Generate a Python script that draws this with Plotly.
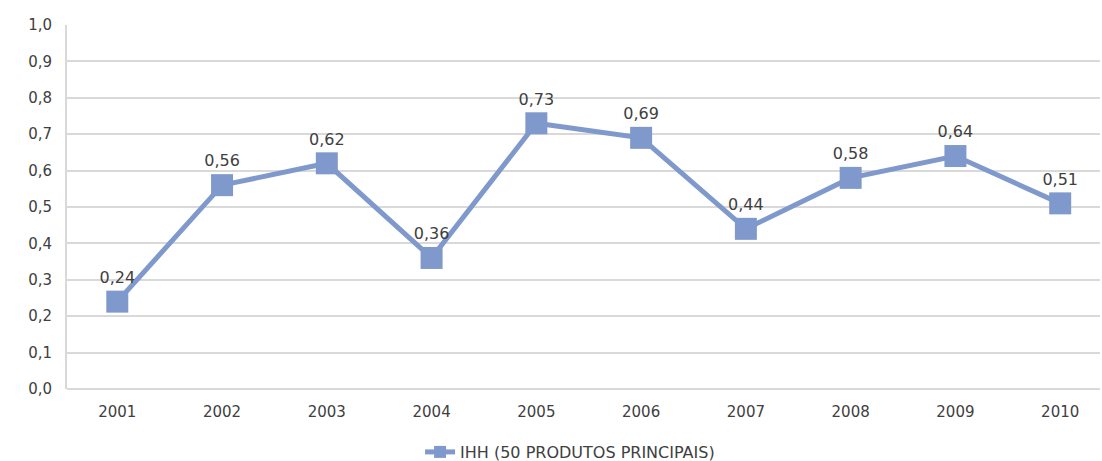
import plotly.graph_objects as go

years = ["2001", "2002", "2003", "2004", "2005", "2006", "2007", "2008", "2009", "2010"]
ihh = [0.24, 0.56, 0.62, 0.36, 0.73, 0.69, 0.44, 0.58, 0.64, 0.51]
labels = ["0,24", "0,56", "0,62", "0,36", "0,73", "0,69", "0,44", "0,58", "0,64", "0,51"]
series_name = "IHH (50 PRODUTOS PRINCIPAIS)"
y_ticks = [0.0, 0.1, 0.2, 0.3, 0.4, 0.5, 0.6, 0.7, 0.8, 0.9, 1.0]

color = "#8099cc"
fam = "DejaVu Sans"

fig = go.Figure()
fig.add_trace(go.Scatter(
    x=years, y=ihh, mode="lines+markers+text", name=series_name,
    line=dict(color=color, width=5),
    marker=dict(symbol="square", size=22, color=color),
    text=labels, textposition="top center",
    textfont=dict(family=fam, size=16, color="#404040"),
))

fig.update_layout(
    width=1102, height=461,
    margin=dict(l=67, r=2, t=25, b=72, autoexpand=False),
    paper_bgcolor="white", plot_bgcolor="white",
    separators=",.",
    font=dict(family=fam, size=15, color="#595959"),
    showlegend=True,
    legend=dict(orientation="h", x=0.487, xanchor="center", y=9 / 461, yref="container",
                yanchor="middle", itemsizing="constant",
                font=dict(family=fam, size=16, color="#404040")),
    xaxis=dict(type="category", range=[-0.48, 9.38], showgrid=False, showline=False, ticks="",
               ticklabelstandoff=12,
               tickfont=dict(family=fam, size=15, color="#404040")),
    yaxis=dict(range=[0, 1.0], tickvals=y_ticks, tickformat=".1f",
               showgrid=True, gridcolor="#d9d9d9", gridwidth=2,
               showline=True, linecolor="#d9d9d9", linewidth=2,
               zeroline=True, zerolinecolor="#d9d9d9", zerolinewidth=2,
               ticks="", ticklen=0, ticklabelstandoff=10,
               tickfont=dict(family=fam, size=15, color="#404040")),
)

fig.write_html("out.html")
